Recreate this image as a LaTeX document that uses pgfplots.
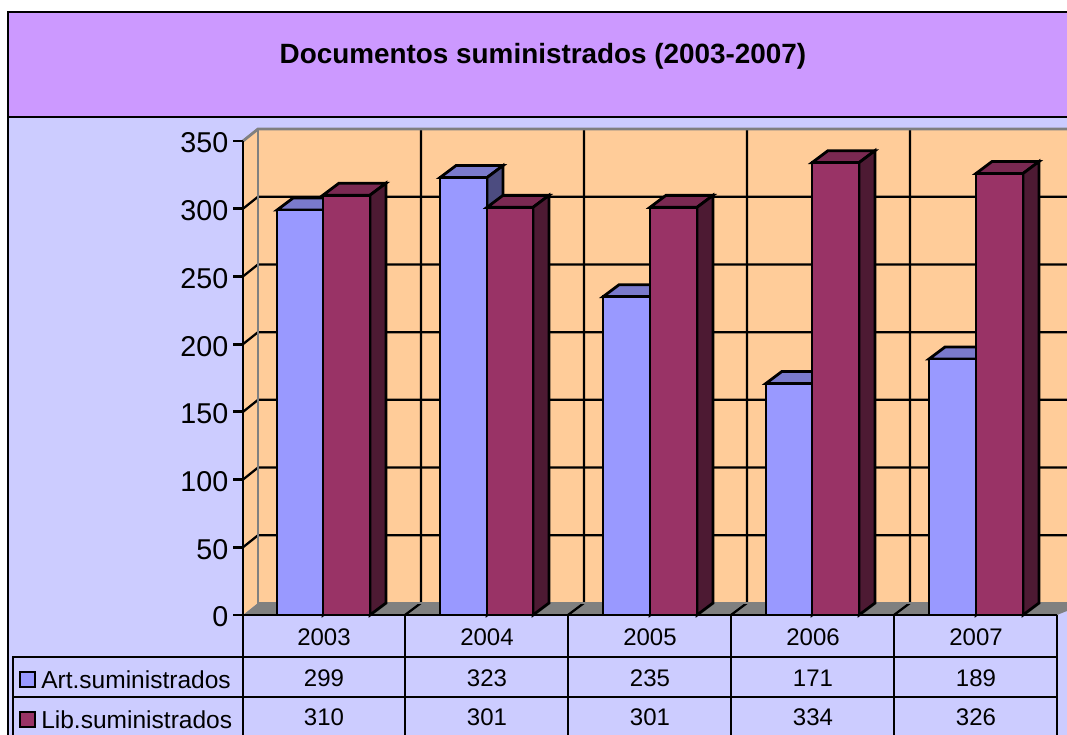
\documentclass[border=0pt]{standalone}
\usepackage{pgfplots}
\pgfplotsset{compat=1.18}
\usepackage{fontspec}
\setmainfont{Liberation Sans}
\definecolor{titlebg}{HTML}{CC99FF}
\definecolor{chartbg}{HTML}{CCCCFF}
\definecolor{wall}{HTML}{FFCC99}
\definecolor{floorc}{HTML}{808080}
\definecolor{blueF}{HTML}{9999FF}
\definecolor{blueT}{HTML}{7A7ACC}
\definecolor{blueS}{HTML}{4C4C80}
\definecolor{redF}{HTML}{993366}
\definecolor{redT}{HTML}{7A2952}
\definecolor{redS}{HTML}{4D1A33}
% one 3-D column: left x, right x, value, colour stem
\newcommand{\tdbar}[4]{%
  \pgfmathsetmacro\xb{#2+16}\pgfmathsetmacro\xc{#1+16}\pgfmathsetmacro\yb{#3+8.86}%
  \edef\tmp{\noexpand\addplot[fill=#4T,draw=black,line width=2.1pt,line join=miter] coordinates {(#1,#3)(\xc,\yb)(\xb,\yb)(#2,#3)} -- cycle;}\tmp
  \edef\tmp{\noexpand\addplot[fill=#4S,draw=black,line width=2.1pt,line join=miter] coordinates {(#2,0)(\xb,8.86)(\xb,\yb)(#2,#3)} -- cycle;}\tmp
  \edef\tmp{\noexpand\addplot[fill=#4F,draw=black,line width=2.1pt,line join=miter] coordinates {(#1,0)(#1,#3)(#2,#3)(#2,0)} -- cycle;}\tmp
}
\begin{document}
\begin{tikzpicture}[x=0.75pt,y=-0.75pt]
\useasboundingbox (0,0) rectangle (1067,735);
\fill[white] (0,0) rectangle (1067,735);
\fill[chartbg] (8,12) rectangle (1067,735);
\fill[titlebg] (8,12) rectangle (1067,117);
\draw[black,line width=2.1pt] (1067,117) -- (8,117);
\draw[black,line width=2.1pt] (1067,12) -- (8,12) -- (8,735);
\node[font=\fontsize{20.9pt}{24pt}\bfseries\selectfont] at (543,56) {Documentos suministrados (2003-2007)};
\begin{axis}[
  at={(182.25pt,-461.25pt)},anchor=south west,
  scale only axis,width=610.5pt,height=355.5pt,
  xmin=243,xmax=1057,ymin=0,ymax=350,
  clip=false,axis on top,
  axis x line*=bottom,axis y line*=left,
  axis line style={line width=2.1pt,-},
  ytick={0,50,100,150,200,250,300,350},
  tick align=outside,major tick length=7.5pt,
  ytick style={line width=2.1pt,black},
  yticklabel style={font=\fontsize{21.5pt}{24pt}\selectfont,/pgf/number format/assume math mode=true,xshift=0pt,yshift=-1.5pt},
  xtick={324,487,650,813,976},
  xticklabels={2003,2004,2005,2006,2007},
  xtick style={draw=none},
  xticklabel style={font=\fontsize{18pt}{22pt}\selectfont,/pgf/number format/assume math mode=true,anchor=center,yshift=-9.5pt},
]
% walls and floor
\addplot[fill=wall,draw=none] coordinates {(243,0)(258,8.86)(1067,8.86)(1067,358.86)(258,358.86)(243,350)} -- cycle;
\addplot[fill=floorc,draw=none] coordinates {(243,0)(258,8.86)(1067,8.86)(1067,3)(1057,0)} -- cycle;
% gridlines on the back wall
\addplot[black,line width=1.7pt] coordinates {(243,50)(258,58.86)(1067,58.86)};
\addplot[black,line width=1.7pt] coordinates {(243,100)(258,108.86)(1067,108.86)};
\addplot[black,line width=1.7pt] coordinates {(243,150)(258,158.86)(1067,158.86)};
\addplot[black,line width=1.7pt] coordinates {(243,200)(258,208.86)(1067,208.86)};
\addplot[black,line width=1.7pt] coordinates {(243,250)(258,258.86)(1067,258.86)};
\addplot[black,line width=1.7pt] coordinates {(243,300)(258,308.86)(1067,308.86)};
\addplot[black,line width=1.7pt] coordinates {(405,0)(421,8.86)(421,358.86)};
\addplot[black,line width=1.7pt] coordinates {(568,0)(584,8.86)(584,358.86)};
\addplot[black,line width=1.7pt] coordinates {(731,0)(747,8.86)(747,358.86)};
\addplot[black,line width=1.7pt] coordinates {(894,0)(910,8.86)(910,358.86)};
\addplot[floorc,line width=2.1pt] coordinates {(243,350)(258,358.86)(1067,358.86)};
\addplot[floorc,line width=2.1pt] coordinates {(258,358.86)(258,8.86)(1067,8.86)};
% columns
\tdbar{277}{323}{299}{blue}
\tdbar{323}{370}{310}{red}
\tdbar{440}{487}{323}{blue}
\tdbar{487}{533}{301}{red}
\tdbar{603}{650}{235}{blue}
\tdbar{650}{697}{301}{red}
\tdbar{766}{812}{171}{blue}
\tdbar{812}{859}{334}{red}
\tdbar{929}{976}{189}{blue}
\tdbar{976}{1023}{326}{red}
\end{axis}
% data table
\draw[black,line width=2.1pt] (13,735) -- (13,657) -- (1057,657);
\draw[black,line width=2.1pt] (13,697) -- (1057,697);
\foreach \x in {243,405,568,731,894,1057} \draw[black,line width=2.1pt] (\x,615) -- (\x,735);
\draw[black,line width=2.1pt] (243,615) -- (1057,615);
\draw[black,line width=2.1pt,fill=blueF] (20,672) rectangle (35,687);
\draw[black,line width=2.1pt,fill=redF] (20,712) rectangle (35,727);
\tikzset{tb/.style={font=\fontsize{18pt}{22pt}\selectfont,inner sep=0pt}}
\node[tb,anchor=base west,font=\fontsize{18.4pt}{22pt}\selectfont] at (41,688) {Art.suministrados};
\node[tb,anchor=base west,font=\fontsize{18.4pt}{22pt}\selectfont] at (41,728) {Lib.suministrados};
\node[tb,anchor=base] at (324,686) {299};
\node[tb,anchor=base] at (487,686) {323};
\node[tb,anchor=base] at (650,686) {235};
\node[tb,anchor=base] at (813,686) {171};
\node[tb,anchor=base] at (976,686) {189};
\node[tb,anchor=base] at (324,725) {310};
\node[tb,anchor=base] at (487,725) {301};
\node[tb,anchor=base] at (650,725) {301};
\node[tb,anchor=base] at (813,725) {334};
\node[tb,anchor=base] at (976,725) {326};
\end{tikzpicture}
\end{document}
